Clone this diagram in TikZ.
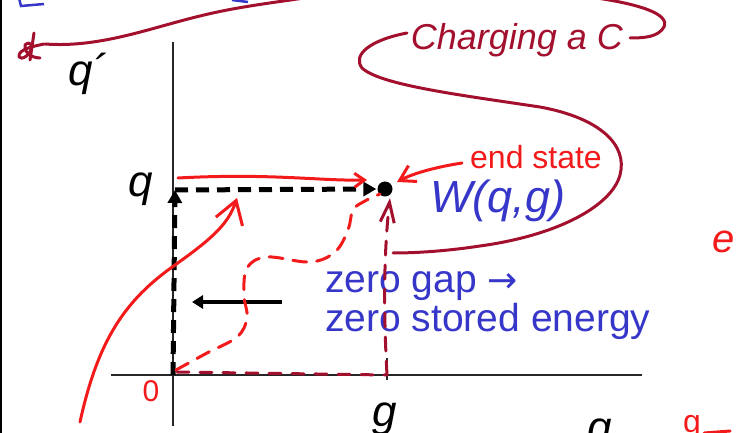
\documentclass[tikz,border=0pt]{standalone}
\usepackage{fontspec}
\setmainfont{Liberation Sans}
\newfontfamily\arrowfont{DejaVu Sans}
\usetikzlibrary{arrows.meta,positioning}
\definecolor{inkred}{HTML}{F21A1A}
\definecolor{wine}{HTML}{A3102E}
\definecolor{slideblue}{HTML}{3636C9}

\begin{document}
\begin{tikzpicture}[x=1pt,y=-1pt,
  axis/.style={draw=black!85,line width=1.4pt},
  route/.style={black,line width=5pt,dash pattern=on 13pt off 8pt,-{Triangle[length=13pt,width=14pt]}},
  pen/.style={inkred,line width=3pt,line cap=round,line join=round},
  wpen/.style={wine,line width=3pt,line cap=round,line join=round},
  lbl/.style={font=\fontsize{44}{48}\selectfont\itshape,inner sep=0pt},
  note/.style={slideblue,font=\fontsize{39}{42}\selectfont,inner sep=0pt,anchor=base west},
  hand/.style={inner sep=0pt,font=\fontsize{32}{34}\selectfont}
]
\useasboundingbox (0,0) rectangle (740,433);
\clip (0,0) rectangle (740,433);
\draw[black,line width=2pt] (1,0) -- (1,433);
% blue leftovers at the top
\draw[slideblue,line width=2.5pt] (19,-2) -- (21,6) -- (44,4);
\draw[slideblue,line width=2.5pt] (232,0) -- (248,2);

% axes
\coordinate (O) at (173,375);
\coordinate (ytop) at (173,42);
\coordinate (ybot) at (173,426);
\coordinate (xleft) at (111,375);
\coordinate (xright) at (642,375);
\coordinate (gtick) at (387,375);
\draw[axis] (ytop) -- (ybot);
\draw[axis] (xleft) -- (xright);
\draw[axis] ([yshift=17pt]gtick) -- ([yshift=-5pt]gtick);

\node[lbl] (qprime) at (88,74) {q´};
\node[lbl,anchor=base] (qlabel) at (141,197) {q};
\node[lbl,anchor=base] (glabel) at (385,426) {g};
\node[lbl,anchor=base] (gaxis) at (600,442) {g};

% charging path
\coordinate (qpt) at (175,190);
\node[circle,fill=black,inner sep=0pt,minimum size=15pt] (endst) at (385,189) {};
\draw[route] (O) -- (qpt);
\draw[route,shorten >=1pt] (qpt) -- (endst.west);
\draw[-{Triangle[length=11pt,width=13pt]},line width=4pt] (282,302) -- (192,302);

\node[slideblue,font=\fontsize{45}{48}\selectfont\itshape,inner sep=0pt,anchor=base west] (W) at (430,213) {W(q,g)};
\node[note] (gapnote) at (325,293) {zero gap {\arrowfont\fontsize{36}{40}\selectfont →}};
\node[note] (energynote) at ([yshift=-38pt]gapnote.base west) {zero stored energy};

% red handwriting
\draw[pen,-{Straight Barb[length=10pt,width=14pt]}] (178,178) .. controls (270,173) and (320,181) .. (367,180);
\draw[pen,-{Straight Barb[length=22pt,width=28pt]}] (80,422) .. controls (98,340) and (125,300) .. (175,265) .. controls (210,240) and (228,225) .. (237,198);
\draw[pen,dash pattern=on 14pt off 10pt] plot[smooth,tension=0.6] coordinates {(176,370) (207,353) (237,337) (247,318) (244,295) (247,268) (267,257) (310,262) (335,252) (348,230) (353,210) (365,201) (380,194)};
\node[hand,text=inkred] (endlabel) at (536,157) {end state};
\draw[pen,-{Straight Barb[length=15pt,width=18pt]}] (462,163) .. controls (430,168) and (410,175) .. (397,182);
\node[hand,text=inkred,font=\fontsize{30}{32}\selectfont] (zero) at (151,391) {0};
\node[hand,text=inkred,font=\fontsize{40}{42}\selectfont\itshape,anchor=base west] (edge) at (712,253) {e};
\node[hand,text=inkred,font=\fontsize{32}{34}\selectfont,anchor=base] (gnote) at (692,432) {g};
\draw[pen] (gnote.base east) ++(3pt,-1pt) -- ++(26pt,2pt);

% dark red handwriting
\draw[wpen,dash pattern=on 12pt off 11pt] (177,372) -- (gtick);
\draw[wpen,dash pattern=on 14pt off 10pt,-{Straight Barb[length=20pt,width=14pt]}] (gtick) .. controls (384,320) and (383,260) .. (390,198);
\draw[wpen] (45,44) .. controls (100,48) and (150,28) .. (200,16) .. controls (240,6) and (280,2) .. (310,-3);
\draw[wpen] (44,44) .. controls (35,46) and (24,48) .. (20,53) .. controls (16,60) and (25,60) .. (30,52) .. controls (34,46) and (30,40) .. (25,45) .. controls (23,50) and (30,58) .. (40,58);
\draw[wpen] (34,33) -- (30,60);
\node[hand,text=wine,font=\fontsize{36}{38}\selectfont\itshape] (charge) at (517,40) {Charging a C};
\draw[wpen] (407,33) .. controls (370,40) and (352,55) .. (362,68) .. controls (380,85) and (460,95) .. (540,107) .. controls (600,118) and (628,145) .. (620,175) .. controls (612,205) and (560,235) .. (480,246) .. controls (440,252) and (410,253) .. (393,253);
\draw[wpen] (590,-3) .. controls (640,4) and (670,14) .. (664,27) .. controls (658,37) and (645,38) .. (630,38);
\end{tikzpicture}
\end{document}
